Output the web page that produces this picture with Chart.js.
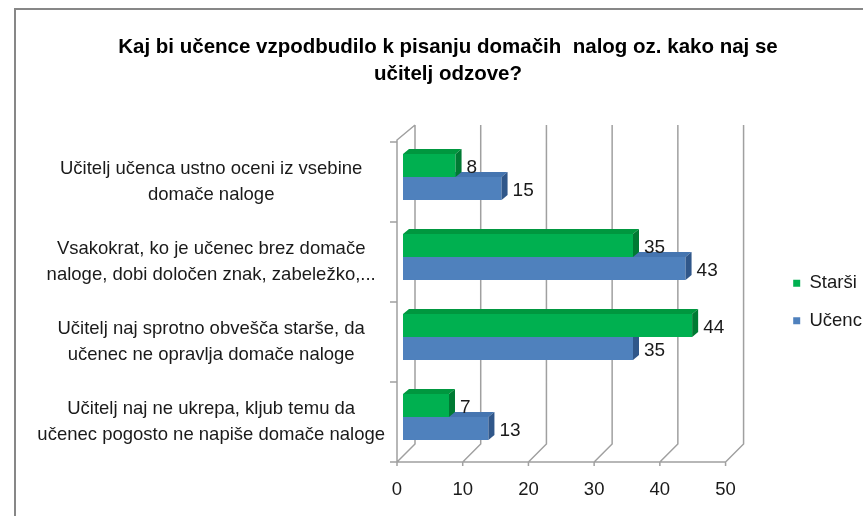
<!DOCTYPE html>
<html>
<head>
<meta charset="utf-8">
<script src="https://cdn.jsdelivr.net/npm/chart.js@4.4.1/dist/chart.umd.min.js"></script>
<style>
  html, body { margin: 0; padding: 0; background: #ffffff; overflow: hidden; width: 863px; height: 516px; }
  #frame { position: absolute; left: 14px; top: 8px; width: 1000px; height: 1000px;
           border-left: 2px solid #878787; border-top: 2px solid #878787; }
  #c { position: absolute; left: 0; top: 0; }
</style>
</head>
<body>
<div id="frame"></div>
<canvas id="c" width="876" height="516"></canvas>
<script>
// ---- data ----
const titleLines = ["Kaj bi učence vzpodbudilo k pisanju domačih  nalog oz. kako naj se", "učitelj odzove?"];
const categories = [
  ["Učitelj učenca ustno oceni iz vsebine", "domače naloge"],
  ["Vsakokrat, ko je učenec brez domače", "naloge, dobi določen znak, zabeležko,..."],
  ["Učitelj naj sprotno obvešča starše, da", "učenec ne opravlja domače naloge"],
  ["Učitelj naj ne ukrepa, kljub temu da", "učenec pogosto ne napiše domače naloge"]
];
const seriesNames = ["Starši", "Učenci"];
const starsi = [8, 35, 44, 7];
const ucenci = [15, 43, 35, 13];
const xTickValues = [0, 10, 20, 30, 40, 50];

// ---- styling ----
const FONT = "'Liberation Sans', Arial, sans-serif";
const colors = {
  front: ["#00b050", "#4f81bd"],
  top:   ["#00973f", "#4575b0"],
  side:  ["#007a33", "#30578a"]
};
const BAR_DX = 6, BAR_DY = 5;      // bar 3D depth
const WALL_D = 18;                 // wall depth
const GRID = "#a0a0a0";

const bar3d = {
  id: 'bar3d',
  beforeDatasetsDraw(chart) {
    const ctx = chart.ctx;
    const xs = chart.scales.x;
    const area = chart.chartArea;
    ctx.save();
    ctx.strokeStyle = GRID;
    ctx.lineWidth = 1.5;
    const bottom = area.bottom, top = area.top;
    const ticks = xTickValues.map(v => xs.getPixelForValue(v));
    ctx.beginPath();
    ticks.forEach(px => {
      ctx.moveTo(px + WALL_D, top - WALL_D + 1);
      ctx.lineTo(px + WALL_D, bottom - WALL_D);
      ctx.lineTo(px, bottom);
      ctx.lineTo(px, bottom + 4);
    });
    ctx.moveTo(ticks[0], bottom);
    ctx.lineTo(ticks[ticks.length - 1], bottom);
    ctx.moveTo(ticks[0], bottom);
    ctx.lineTo(ticks[0], top - 2);
    ctx.lineTo(ticks[0] + WALL_D, top - WALL_D + 1);
    const n = categories.length;
    const step = (bottom - top) / n;
    for (let i = 0; i <= n; i++) {
      const y = top + i * step;
      ctx.moveTo(ticks[0] - 7, y);
      ctx.lineTo(ticks[0], y);
    }
    ctx.stroke();
    ctx.restore();

    ctx.save();
    ctx.translate(BAR_DX, -BAR_DY);
  },
  afterDatasetDraw(chart, args) {
    const ctx = chart.ctx;
    const i = args.index;
    args.meta.data.forEach(el => {
      const h = el.height;
      const t = el.y - h / 2, b = el.y + h / 2;
      const x0 = el.base, x1 = el.x;
      ctx.fillStyle = colors.top[i];
      ctx.beginPath();
      ctx.moveTo(x0, t);
      ctx.lineTo(x0 + BAR_DX, t - BAR_DY);
      ctx.lineTo(x1 + BAR_DX, t - BAR_DY);
      ctx.lineTo(x1, t);
      ctx.closePath();
      ctx.fill();
      ctx.fillStyle = colors.side[i];
      ctx.beginPath();
      ctx.moveTo(x1, t);
      ctx.lineTo(x1 + BAR_DX, t - BAR_DY);
      ctx.lineTo(x1 + BAR_DX, b - BAR_DY);
      ctx.lineTo(x1, b);
      ctx.closePath();
      ctx.fill();
    });
  },
  afterDatasetsDraw(chart) {
    const ctx = chart.ctx;
    ctx.restore();
    ctx.save();
    ctx.fillStyle = "#1a1a1a";
    ctx.font = "19px " + FONT;
    ctx.textAlign = "left";
    ctx.textBaseline = "middle";
    chart.data.datasets.forEach((ds, di) => {
      chart.getDatasetMeta(di).data.forEach((el, j) => {
        ctx.fillText(String(ds.data[j]), el.x + BAR_DX + 11, el.y - BAR_DY + 2.5);
      });
    });
    ctx.restore();
  }
};

new Chart(document.getElementById('c'), {
  type: 'bar',
  data: {
    labels: categories,
    datasets: [
      { label: seriesNames[0], data: starsi, backgroundColor: colors.front[0], borderWidth: 0 },
      { label: seriesNames[1], data: ucenci, backgroundColor: colors.front[1], borderWidth: 0 }
    ]
  },
  options: {
    indexAxis: 'y',
    responsive: false,
    animation: false,
    devicePixelRatio: 1,
    categoryPercentage: 0.575,
    barPercentage: 1.0,
    layout: { padding: { left: 20, right: 0, top: 0, bottom: 15 } },
    scales: {
      x: {
        min: 0,
        max: 57.4,
        ticks: { padding: 17, color: "#1a1a1a", autoSkip: false, maxRotation: 0,
                 font: { family: FONT, size: 18.5, lineHeight: 1.2 } },
        afterBuildTicks: s => { s.ticks = xTickValues.map(v => ({ value: v })); },
        afterFit: s => { s.height = 39; },
        grid: { display: false, drawTicks: false },
        border: { display: false }
      },
      y: {
        ticks: { crossAlign: 'center', padding: 12, color: "#1a1a1a", font: { family: FONT, size: 18.5, lineHeight: 1.42 } },
        grid: { display: false, drawTicks: false },
        border: { display: false },
        afterFit: s => { s.width = 377; }
      }
    },
    plugins: {
      title: {
        display: true,
        text: titleLines,
        color: "#000000",
        font: { family: FONT, size: 20.5, weight: 'bold', lineHeight: 1.317 },
        padding: { top: 33.5, bottom: 54.5 }
      },
      legend: {
        position: 'right',
        fullSize: false,
        labels: {
          boxWidth: 7, boxHeight: 7, padding: 19, color: "#1a1a1a",
          font: { family: FONT, size: 18.5, lineHeight: 1.0 }
        }
      },
      tooltip: { enabled: false }
    }
  },
  plugins: [bar3d]
});
</script>
</body>
</html>
